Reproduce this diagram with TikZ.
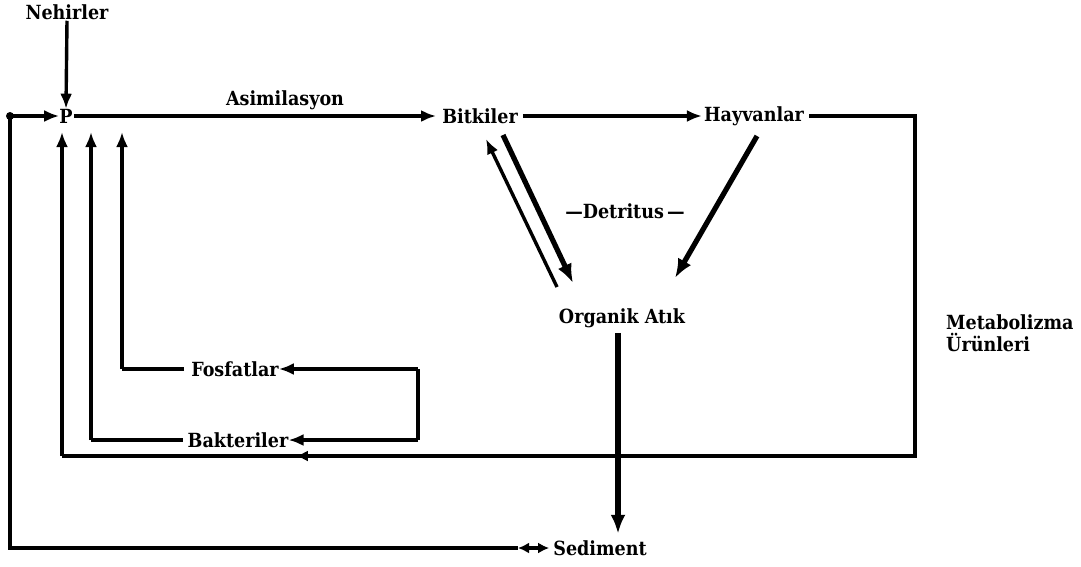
\documentclass[tikz,border=0pt]{standalone}
\usepackage{fontspec}
\setmainfont{DejaVu Serif Condensed}
\usetikzlibrary{arrows.meta,decorations.markings}
\begin{document}
\begin{tikzpicture}[x=1pt,y=-1pt,
  lbl/.style={font=\bfseries\fontsize{19.5}{22}\selectfont, inner sep=1pt},
  ln/.style={line width=3.4pt},
  arr/.style={line width=3.4pt,-{Latex[length=15pt,width=12pt]}},
  thk/.style={line width=5.2pt,-{Latex[length=19pt,width=15pt]}},
  midarr/.style={postaction={decorate},decoration={markings,
     mark=at position #1 with {\arrow{Latex[length=12pt,width=11pt]}}}}]
\useasboundingbox (0,0) rectangle (1081,566);
% nodes
\node[lbl] (neh) at (67,12) {Nehirler};
\node[lbl] (P) at (66,116) {P};
\node[lbl] (asim) at (285,100) {Asimilasyon};
\node[lbl] (bit) at (480,116) {Bitkiler};
\node[lbl] (hay) at (754,116) {Hayvanlar};
\node[lbl] (det) at (625,211) {---Detritus\,---};
\node[lbl] (org) at (622,318) {Organik At\i k};
\node[lbl, align=left, anchor=west] (met) at (945,333) {Metabolizma\\Ürünleri};
\node[lbl] (fos) at (235,369) {Fosfatlar};
\node[lbl] (bak) at (238,440) {Bakteriler};
\node[lbl] (sed) at (600,548) {Sediment};
% coordinates
\coordinate (tl) at (10,116);
\coordinate (bl) at (10,548);
\coordinate (sedL) at (518,548);
\coordinate (loopTR) at (915,116);
\coordinate (loopBR) at (915,456);
\coordinate (loopBL) at (62,456);
\coordinate (pin1) at (62,132);
\coordinate (pin2) at (91,132);
\coordinate (pin3) at (122,132);
\coordinate (rr1) at (418,369);
\coordinate (rr2) at (418,440);
\coordinate (fosL) at (122,369);
\coordinate (bakL) at (91,440);
\coordinate (bo1) at (503,135);
\coordinate (bo2) at (573,283);
\coordinate (ob1) at (557,287);
\coordinate (ob2) at (486,139);
\coordinate (ho1) at (757,136);
\coordinate (ho2) at (675,278);
% connectors
\draw[arr] (neh.south) -- ([yshift=-1pt]P.north);
\draw[arr] (P.east) -- ([xshift=-5pt]bit.west);
\draw[arr] ([xshift=4pt]bit.east) -- ([xshift=-1pt]hay.west);
\draw[arr] (tl) -- ([xshift=1pt]P.west);
\fill (tl) circle (4pt);
\draw[ln] (tl) -- (bl) -- (sedL);
\draw[line width=3.4pt,{Latex[length=11pt,width=11pt]}-] (sedL) -- ++(14,0) coordinate (sedM);
\draw[line width=3.4pt,-{Latex[length=11pt,width=11pt]}] (sedM) -- ([xshift=-3pt]sed.west);
\draw[ln, midarr=0.82] ([xshift=4pt]hay.east) -- (loopTR) -- (loopBR) -- (loopBL);
\draw[arr] (loopBL) -- (pin1);
\draw[arr] (rr1) -- ([xshift=-1pt]fos.east);
\draw[ln] (rr1) -- (rr2);
\draw[arr] (rr2) -- ([xshift=-1pt]bak.east);
\draw[ln] ([xshift=-6pt]fos.west) -- (fosL);
\draw[arr] (fosL) -- (pin3);
\draw[ln] ([xshift=-4pt]bak.west) -- (bakL);
\draw[arr] (bakL) -- (pin2);
\draw[thk] (bo1) -- (bo2);
\draw[arr] (ob1) -- (ob2);
\draw[thk] (ho1) -- (ho2);
\draw[thk] ([xshift=-4pt,yshift=-4pt]org.south) -- ([xshift=-4pt,yshift=-205pt]org.south);
\end{tikzpicture}
\end{document}
